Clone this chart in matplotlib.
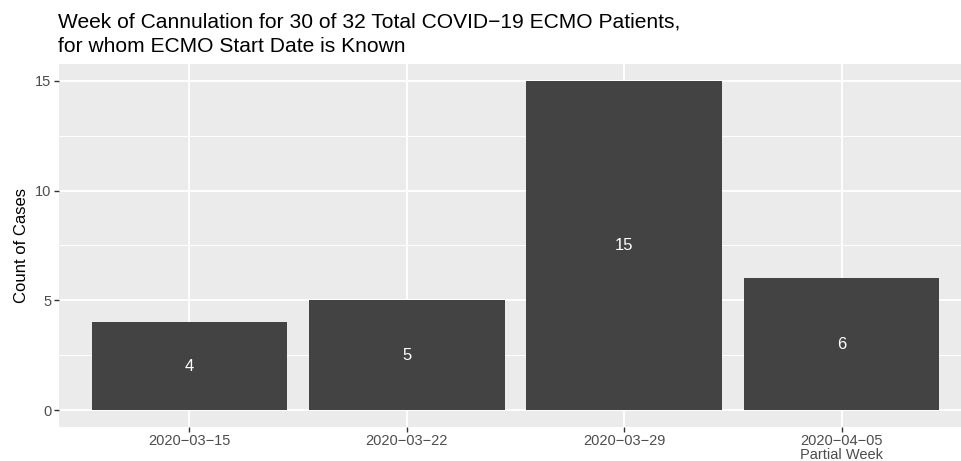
import matplotlib
matplotlib.use("Agg")
import matplotlib.pyplot as plt
from matplotlib.ticker import MultipleLocator

weeks = ["2020\u221203\u221215", "2020\u221203\u221222", "2020\u221203\u221229", "2020\u221204\u221205\nPartial Week"]
counts = [4, 5, 15, 6]
yticks = [0, 5, 10, 15]
title_lines = ["Week of Cannulation for 30 of 32 Total COVID\u221219 ECMO Patients,",
               "for whom ECMO Start Date is Known"]

plt.rcParams['font.family'] = ['Liberation Sans', 'DejaVu Sans']

W, H = 962, 461
fig = plt.figure(figsize=(W / 100, H / 100), dpi=100)
# panel pixel geometry
left_px, right_px = 59, 972
top_px, bot_px = 64.4, 426.5
ax = fig.add_axes([left_px / W, 1 - bot_px / H, (right_px - left_px) / W, (bot_px - top_px) / H])
ax.set_facecolor('#EBEBEB')

x = list(range(1, len(counts) + 1))
ax.set_xlim(0.4, 4.6)
ax.set_ylim(-0.75, 15.75)

ax.yaxis.set_minor_locator(MultipleLocator(2.5))
ax.set_yticks(yticks)
ax.set_xticks(x)
ax.set_xticklabels(weeks, linespacing=0.95)
ax.grid(True, which='major', color='white', linewidth=1.3)
ax.grid(True, which='minor', axis='y', color='white', linewidth=0.65)
ax.set_axisbelow(True)

ax.bar(x, counts, width=0.9, color='#434343', zorder=3)
for xi, c in zip(x, counts):
    ax.text(xi, c / 2, str(c), color='white', ha='center', va='center', fontsize=12, zorder=4)

for s in ax.spines.values():
    s.set_visible(False)
ax.tick_params(axis='both', which='major', length=3.5, width=1.0, color='#333333',
               labelcolor='#4D4D4D', labelsize=10.5, pad=2)
ax.tick_params(axis='y', which='minor', length=0)

ax.set_ylabel('Count of Cases', fontsize=12, color='black', labelpad=4)

for i, line in enumerate(title_lines):
    fig.text(58 / W, 1 - (28 + 24 * i) / H, line, ha='left', va='baseline',
             fontsize=15.1, color='black')

fig.savefig('out.png', dpi=100)
